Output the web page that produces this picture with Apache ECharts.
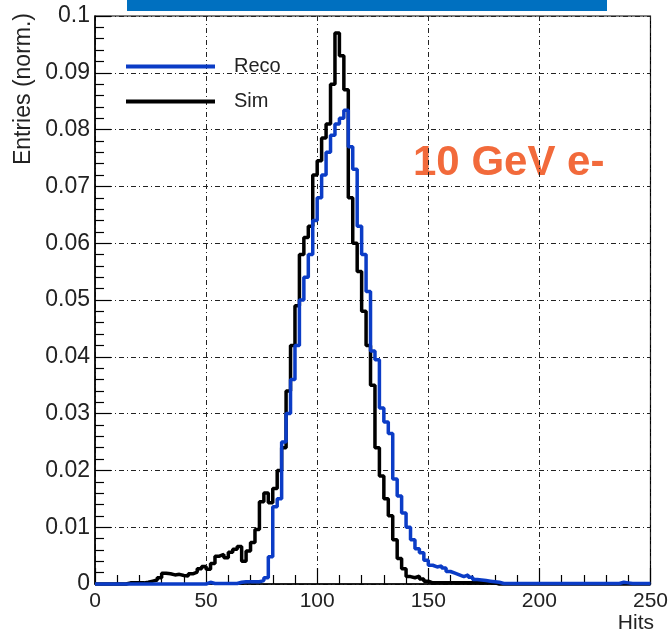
<!DOCTYPE html>
<html>
<head>
<meta charset="utf-8">
<script src="https://cdn.jsdelivr.net/npm/echarts@6/dist/echarts.min.js"></script>
<style>
html,body{margin:0;padding:0;background:#fff;}
#chart{width:671px;height:637px;}
</style>
</head>
<body>
<div id="chart"></div>
<script>
// Histogram bin left edges (bin width 2 hits)
const binEdges = [];
for (let e = 0; e < 250; e += 2) binEdges.push(e);
const binWidth = 2;

// Reco (blue) normalised entries per bin
const recoValues = [
  0,0,0,0,0,0,0,0,0,0,            // 0-18
  0,0,0,0,0,0,0,0,0,0,            // 20-38
  0,0,0,0,0,0.0003,0.0001,0.0001,0.0001,0.0001, // 40-58
  0.0001,0.0001,0.0003,0.0004,0.0004,0.0004,0.0004,0.0006,0.0011,0.0048, // 60-78
  0.0136,0.0150,0.0250,0.0300,0.0360,0.0420,0.0500,0.0540,0.0580,0.0640, // 80-98
  0.0680,0.0720,0.0760,0.0790,0.0810,0.0820,0.0834,0.0770,0.0730,0.0630, // 100-118
  0.0580,0.0515,0.0410,0.0395,0.0310,0.0285,0.0265,0.0185,0.0155,0.0125, // 120-138
  0.0100,0.0078,0.0062,0.0055,0.0042,0.0033,0.0030,0.0032,0.0028,0.0022, // 140-158
  0.0019,0.0016,0.0013,0.0016,0.0012,0.0008,0.0007,0.0006,0.0005,0.0004, // 160-178
  0.0003,0.0001,0.0001,0.0001,0.0001,0.0001,0.0001,0.0001,0.0001,0.0001, // 180-198
  0.0001,0.0001,0.0001,0.0001,0.0001,0.0001,0.0001,0.0001,0.0001,0.0001, // 200-218
  0.0001,0.0001,0.0001,0.0001,0.0001,0.0001,0.0001,0.0001,0.0003,0.0002, // 220-238
  0.0001,0.0001,0.0001,0.0001,0.0001                                     // 240-248
];

// Sim (black) normalised entries per bin
const simValues = [
  0,0,0,0,0,0,0,0.0002,0.0002,0.0002,                                    // 0-18
  0.0002,0.0003,0.0005,0.0007,0.0011,0.0019,0.0018,0.0016,0.0017,0.0015, // 20-38
  0.0014,0.0018,0.0021,0.0027,0.0031,0.0026,0.0036,0.0049,0.0052,0.0046, // 40-58
  0.0056,0.0061,0.0066,0.0040,0.0058,0.0073,0.0096,0.0145,0.0160,0.0143, // 60-78
  0.0168,0.0200,0.0240,0.0340,0.0420,0.0490,0.0580,0.0610,0.0630,0.0720, // 80-98
  0.0745,0.0785,0.0810,0.0880,0.0970,0.0930,0.0870,0.0680,0.0600,0.0550, // 100-118
  0.0480,0.0420,0.0350,0.0240,0.0190,0.0150,0.0120,0.0078,0.0045,0.0027, // 120-138
  0.0013,0.0011,0.0014,0.0009,0.0005,0.0002,0.0002,0.0002,0.0002,0.0002, // 140-158
  0.0002,0.0002,0.0002,0.0002,0.0002,0.0002,0.0002,0.0002,0.0002,0.0002, // 160-178
  0,0,0,0,0,0,0,0,0,0,                                                   // 180-198
  0,0,0,0,0,0,0,0,0,0,                                                   // 200-218
  0,0,0,0,0,0,0,0,0,0,                                                   // 220-238
  0,0,0,0,0                                                              // 240-248
];

const seriesNames = ['Reco', 'Sim'];
const xTickLabels = [0, 50, 100, 150, 200, 250];
const yTickLabels = [0, 0.01, 0.02, 0.03, 0.04, 0.05, 0.06, 0.07, 0.08, 0.09, 0.1];

function histData(values) {
  const d = binEdges.map((e, i) => [e, values[i]]);
  d.push([binEdges[binEdges.length - 1] + binWidth, values[values.length - 1]]);
  return d;
}

const FONT = '"Liberation Sans", Arial, Helvetica, sans-serif';
const chart = echarts.init(document.getElementById('chart'), null, {renderer: 'canvas'});
const gridStyle = {color: '#222', width: 1, type: [5, 3, 1, 3]};

chart.setOption({
  animation: false,
  backgroundColor: '#fff',
  grid: {left: 95, right: 18, top: 16, bottom: 53, show: true, borderColor: '#000', borderWidth: 1.2, backgroundColor: 'transparent'},
  legend: {
    orient: 'vertical', left: 121, top: 51, icon: 'rect', itemWidth: 89, itemHeight: 4, itemGap: 14,
    data: seriesNames,
    textStyle: {fontFamily: FONT, fontSize: 20, color: '#222', lineHeight: 21, padding: [0, 0, 0, 14]}
  },
  xAxis: {
    type: 'value', min: 0, max: 250, interval: 50,
    axisLine: {show: true, lineStyle: {color: '#000', width: 1.5}},
    axisTick: {show: true, inside: true, length: 16, lineStyle: {color: '#000', width: 1.2}},
    minorTick: {show: true, splitNumber: 5, length: 9, lineStyle: {color: '#000', width: 1.2}},
    splitLine: {show: true, lineStyle: gridStyle},
    axisLabel: {fontFamily: FONT, fontSize: 21, color: '#222', margin: 7,
      formatter: v => (xTickLabels.indexOf(v) >= 0 ? String(v) : '')}
  },
  yAxis: {
    type: 'value', min: 0, max: 0.1, interval: 0.01,
    axisLine: {show: true, lineStyle: {color: '#000', width: 1.5}},
    axisTick: {show: true, inside: true, length: 16, lineStyle: {color: '#000', width: 1.2}},
    minorTick: {show: true, splitNumber: 5, length: 9, lineStyle: {color: '#000', width: 1.2}},
    splitLine: {show: true, lineStyle: gridStyle},
    axisLabel: {fontFamily: FONT, fontSize: 23, color: '#222', margin: 5,
      formatter: v => {
        const m = yTickLabels.find(t => Math.abs(t - v) < 1e-9);
        return m === undefined ? '' : String(m);
      }}
  },
  graphic: [
    {type: 'rect', left: 127, top: 0, shape: {width: 480, height: 11}, style: {fill: '#0070c0'}, z: 10},
    {type: 'text', x: 24, y: 13, rotation: Math.PI / 2,
      style: {text: 'Entries (norm.)', font: '23px ' + FONT, fill: '#222', textAlign: 'right', textVerticalAlign: 'middle'}},
    {type: 'text', x: 654, y: 613,
      style: {text: 'Hits', font: '21px ' + FONT, fill: '#222', textAlign: 'right', textVerticalAlign: 'top'}},
    {type: 'text', x: 413, y: 163,
      style: {text: '10 GeV e-', font: 'bold 42px ' + FONT, fill: '#f26a3b', textAlign: 'left', textVerticalAlign: 'middle'}}
  ],
  series: [
    {name: 'Sim', type: 'line', step: 'end', data: histData(simValues), showSymbol: false, symbol: 'none',
      clip: false, color: '#000', lineStyle: {color: '#000', width: 3.5}, z: 3},
    {name: 'Reco', type: 'line', step: 'end', data: histData(recoValues), showSymbol: false, symbol: 'none',
      clip: false, color: '#0b3cc6', lineStyle: {color: '#0b3cc6', width: 3.5}, z: 4}
  ]
});
</script>
</body>
</html>
